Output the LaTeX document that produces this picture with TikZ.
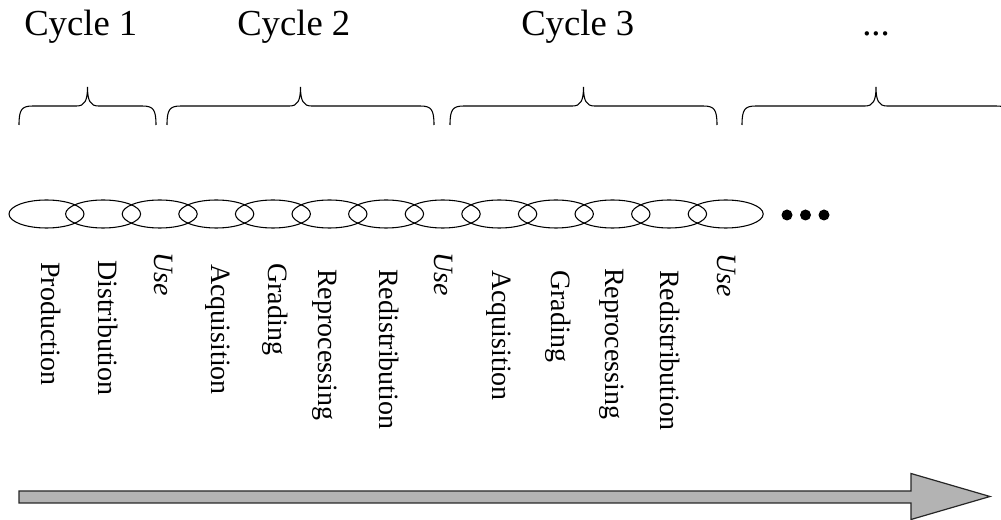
\documentclass[tikz,border=0pt]{standalone}
\usepackage{fontspec}
\setmainfont{Liberation Serif}
\usetikzlibrary{shapes.geometric}
\definecolor{arrowgray}{HTML}{B3B3B3}
\begin{document}
\begin{tikzpicture}[x=0.75pt,y=-0.75pt,
  link/.style={ellipse,draw,line width=0.8pt,minimum width=56.25pt,minimum height=21pt,inner sep=0pt},
  stage/.style={rotate=-90,anchor=base west,inner sep=0pt,font=\fontsize{21}{21}\selectfont},
  cyclelabel/.style={anchor=base west,inner sep=0pt,font=\fontsize{27.5}{27.5}\selectfont},
  bdot/.style={circle,fill=black,minimum size=8.25pt,inner sep=0pt},
  bracepath/.style={line width=0.8pt},
  timearrow/.style={fill=arrowgray,draw=black!85,line width=0.9pt}]
\useasboundingbox (0,0) rectangle (1001,520);

% cycle titles
\node[cyclelabel] (c1) at (24,36) {Cycle 1};
\node[cyclelabel] (c2) at (237,36) {Cycle 2};
\node[cyclelabel] (c3) at (521,36) {Cycle 3};
\node[cyclelabel] (c4) at (862,36) {...};

% braces
\begin{scope}
\clip (0,0) rectangle (1001,520);
\foreach \L/\R [evaluate=\L as \M using (\L+\R)/2] in {19/156,167/434,450/717,742/1010} {
  \draw[bracepath] (\L,125) .. controls (\L,109) and (\L+3,106) .. (\L+14,106)
    -- (\M-11,106) .. controls (\M-3,106) and (\M,101) .. (\M,87)
    .. controls (\M,101) and (\M+3,106) .. (\M+11,106)
    -- (\R-14,106) .. controls (\R-3,106) and (\R,109) .. (\R,125);
}
\end{scope}

% chain of links
\foreach \i in {1,...,13} {
  \node[link] (e\i) at ({46.5+56.6*(\i-1)},214) {};
}
\node[bdot] (d1) at (787,215) {};
\node[bdot] (d2) at (805.5,215) {};
\node[bdot] (d3) at (824,215) {};

% stage labels
\node[stage] (l1) at (41,262) {Production};
\node[stage] (l2) at (98,260) {Distribution};
\node[stage] (l3) at (154.5,252) {\textit{Use}};
\node[stage] (l4) at (211,264) {Acquisition};
\node[stage] (l5) at (268.5,263) {Grading};
\node[stage] (l6) at (318,269) {Reprocessing};
\node[stage] (l7) at (379,269) {Redistribution};
\node[stage] (l8) at (434,252) {\textit{Use}};
\node[stage] (l9) at (492,270) {Acquisition};
\node[stage] (l10) at (551,270) {Grading};
\node[stage] (l11) at (605,268) {Reprocessing};
\node[stage] (l12) at (660,270) {Redistribution};
\node[stage] (l13) at (717,253) {\textit{Use}};

% time arrow
\draw[timearrow] (19,491) -- (911,491) -- (911,473.5) -- (990,496.5) -- (911,519.5) -- (911,503) -- (19,503) -- cycle;
\end{tikzpicture}
\end{document}
